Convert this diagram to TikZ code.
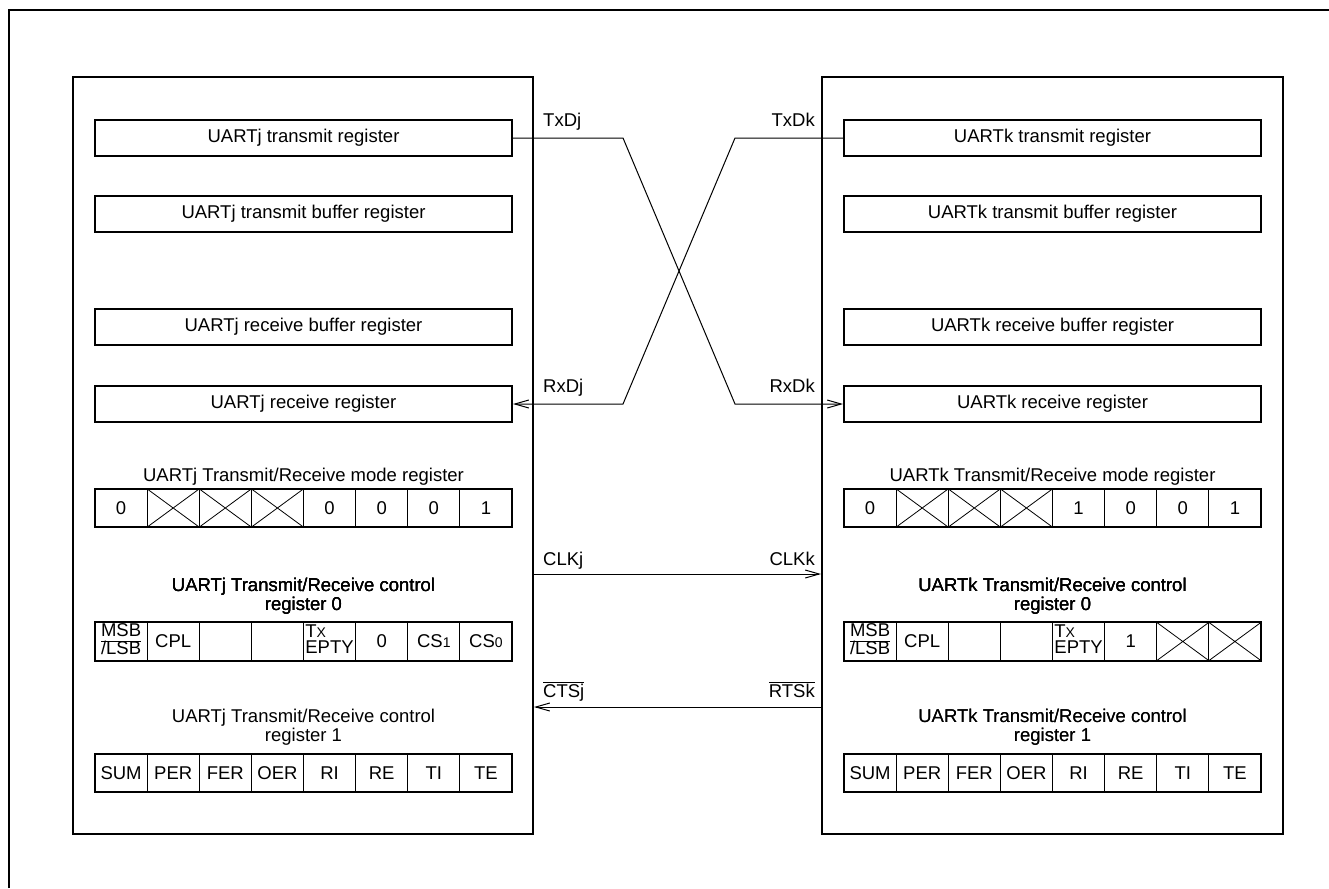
\documentclass[tikz,border=0pt]{standalone}
\usepackage{fontspec}
\setmainfont{Liberation Sans}
\usetikzlibrary{arrows.meta,positioning}
\newcommand{\regfont}{\fontsize{18.5}{19.5}\selectfont}
\newcommand{\bitfont}{\fontsize{18.5}{15.5}\selectfont}
\newcommand{\msblsb}{{\bitfont\setlength{\tabcolsep}{0pt}%
  \begin{tabular}{c}MSB\\[-1pt]\hline/LSB\end{tabular}}}
\newcommand{\txepty}{{\bitfont\setlength{\tabcolsep}{0pt}%
  \begin{tabular}{l}T{\fontsize{14}{14}\selectfont X}\\[-1pt]EPTY\end{tabular}}}
\newcommand{\csbit}[1]{CS{\fontsize{14}{14}\selectfont #1}}
\tikzset{
  >={Straight Barb[length=14pt,width=8pt]},
  frame/.style={line width=2pt},
  blk/.style={draw, line width=2pt, minimum width=460pt, minimum height=757pt, inner sep=0pt},
  reg/.style={draw, line width=2pt, minimum width=417pt, minimum height=36pt, inner sep=0pt, font=\regfont},
  cell/.style={draw, line width=0.8pt, minimum width=52.125pt, minimum height=38pt, inner sep=0pt, font=\regfont},
  rowbox/.style={line width=2pt},
  cross/.style={line width=0.8pt},
  sig/.style={line width=1pt},
  lbl/.style={font=\regfont, inner sep=0pt},
  title/.style={font=\regfont, align=center, inner sep=0pt},
}
% one register of eight bits: name prefix, left x, centre y, bit texts
\newcommand{\bitrow}[4]{%
  \foreach \v [count=\i] in {#4}
    \node[cell] (#1\i) at ({#2+(\i-0.5)*52.125},#3) {\v};
  \draw[rowbox] (#11.north west) rectangle (#18.south east);}
\newcommand{\crossbit}[1]{%
  \draw[cross] (#1.north west) -- (#1.south east) (#1.south west) -- (#1.north east);}

\begin{document}
\begin{tikzpicture}[x=1pt, y=-1pt]
\useasboundingbox (0,0) rectangle (1329,888);
\draw[frame] (9,888) -- (9,10) -- (1329,10);
% the two UARTs
\node[blk] (blockj) at (303,455.5) {};
\node[blk, minimum width=461pt] (blockk) at (1052.5,455.5) {};
% UARTj
\node[reg] (jtx) at (303.5,138) {UARTj transmit register};
\node[reg] (jtb) at (303.5,214) {UARTj transmit buffer register};
\node[reg] (jrb) at (303.5,327) {UARTj receive buffer register};
\node[reg] (jrx) at (303.5,404) {UARTj receive register};
\node[title] (jmt) at (303.5,477) {UARTj Transmit/Receive mode register};
\bitrow{jm}{95}{508}{0,,,,0,0,0,1}
\foreach \i in {2,3,4} \crossbit{jm\i}
\node[title] (jc0t) at (303.5,596) {UARTj Transmit/Receive control\\register 0};
\bitrow{jc}{95}{641.5}{\msblsb,CPL,,,\txepty,0,\csbit{1},\csbit{0}}
\node[title] (jc1t) at (303.5,727) {UARTj Transmit/Receive control\\register 1};
\bitrow{js}{95}{773}{SUM,PER,FER,OER,RI,RE,TI,TE}
% UARTk
\node[reg] (ktx) at (1052.5,138) {UARTk transmit register};
\node[reg] (ktb) at (1052.5,214) {UARTk transmit buffer register};
\node[reg] (krb) at (1052.5,327) {UARTk receive buffer register};
\node[reg] (krx) at (1052.5,404) {UARTk receive register};
\node[title] (kmt) at (1052.5,477) {UARTk Transmit/Receive mode register};
\bitrow{km}{844}{508}{0,,,,1,0,0,1}
\foreach \i in {2,3,4} \crossbit{km\i}
\node[title] (kc0t) at (1052.5,596) {UARTk Transmit/Receive control\\register 0};
\bitrow{kc}{844}{641.5}{\msblsb,CPL,,,\txepty,1,,}
\foreach \i in {7,8} \crossbit{kc\i}
\node[title] (kc1t) at (1052.5,727) {UARTk Transmit/Receive control\\register 1};
\bitrow{ks}{844}{773}{SUM,PER,FER,OER,RI,RE,TI,TE}
% crossed data lines
\coordinate (jbend1) at (623,138);
\coordinate (jbend2) at (623,404);
\coordinate (kbend1) at (735,138);
\coordinate (kbend2) at (735,404);
\draw[sig,->] (jtx.east) -- (jbend1) -- (kbend2) -- (krx.west);
\draw[sig,->] (ktx.west) -- (kbend1) -- (jbend2) -- (jrx.east);
\draw[sig,->] (blockj.east |- 0,574) -- (blockk.west |- 0,574);
\draw[sig,->] (blockk.west |- 0,707) -- (blockj.east |- 0,707);
% pin names
\node[lbl, anchor=base west] (txdj) at (543,127) {TxDj};
\node[lbl, anchor=base east] (txdk) at (815,127) {TxDk};
\node[lbl, anchor=base west] (rxdj) at (543,392) {RxDj};
\node[lbl, anchor=base east] (rxdk) at (815,392) {RxDk};
\node[lbl, anchor=base west] (clkj) at (543,565) {CLKj};
\node[lbl, anchor=base east] (clkk) at (815,565) {CLKk};
\node[lbl, anchor=base west] (ctsj) at (543,697) {$\overline{\mbox{CTSj}}$};
\node[lbl, anchor=base east] (rtsk) at (815,697) {$\overline{\mbox{RTSk}}$};
\end{tikzpicture}
\end{document}
